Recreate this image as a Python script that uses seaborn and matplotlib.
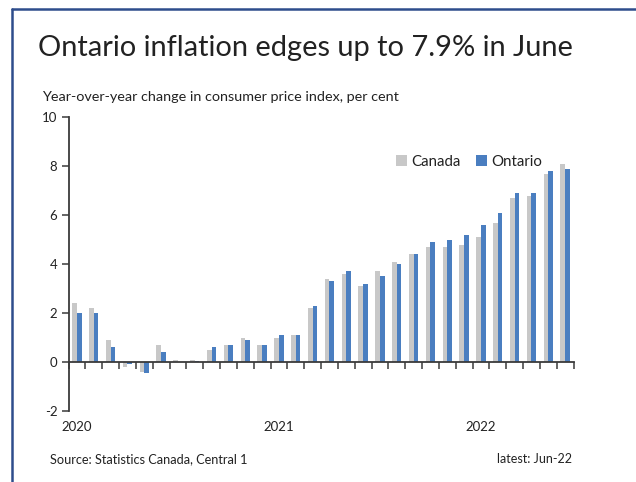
import matplotlib
matplotlib.use("Agg")
import matplotlib.pyplot as plt
import matplotlib.transforms as mtransforms
import seaborn as sns
import pandas as pd
import numpy as np

months = pd.date_range("2020-01-01", "2022-06-01", freq="MS").strftime("%Y-%m").tolist()
canada = [2.4, 2.2, 0.9, -0.2, -0.4, 0.7, 0.1, 0.1, 0.5, 0.7, 1.0, 0.7,
          1.0, 1.1, 2.2, 3.4, 3.6, 3.1, 3.7, 4.1, 4.4, 4.7, 4.7, 4.8,
          5.1, 5.7, 6.7, 6.8, 7.7, 8.1]
ontario = [2.0, 2.0, 0.6, -0.1, -0.45, 0.4, 0.0, 0.05, 0.6, 0.7, 0.9, 0.7,
           1.1, 1.1, 2.3, 3.3, 3.7, 3.2, 3.5, 4.0, 4.4, 4.9, 5.0, 5.2,
           5.6, 6.1, 6.9, 6.9, 7.8, 7.9]
year_labels = ["2020", "2021", "2022"]
year_positions = [0, 12, 24]
series_names = ["Canada", "Ontario"]
colors = ["#c8c8c8", "#4a7ec0"]

df = pd.DataFrame({
    "month": months * 2,
    "value": canada + ontario,
    "series": ["Canada"] * len(months) + ["Ontario"] * len(months),
})

sns.set_theme(style="white")
plt.rcParams["font.family"] = ["Lato", "DejaVu Sans"]
plt.rcParams["axes.unicode_minus"] = False

fig = plt.figure(figsize=(6.36, 4.82), dpi=100)
ax = fig.add_axes([68.5 / 636, 1 - 411 / 482, 505 / 636, (411 - 117.3) / 482])

sns.barplot(data=df, x="month", y="value", hue="series", order=months,
            hue_order=series_names, palette=colors, width=0.56, gap=0,
            saturation=1, ax=ax, linewidth=0)

ax.set_xlim(-0.5, len(months) - 0.5)
ax.set_ylim(-2, 10)
ax.set_yticks(np.arange(-2, 11, 2))
ax.set_xlabel("")
ax.set_ylabel("")

for s in ["top", "right"]:
    ax.spines[s].set_visible(False)
ax.spines["left"].set_color("#3a3a3a")
ax.spines["left"].set_linewidth(1.3)
ax.spines["bottom"].set_position(("data", 0))
ax.spines["bottom"].set_color("#3a3a3a")
ax.spines["bottom"].set_linewidth(1.3)

ax.set_xticks(np.arange(-0.5, len(months), 1))
ax.set_xticklabels([])
ax.tick_params(axis="x", direction="out", length=5, width=1.1, color="#3a3a3a", bottom=True)
ax.tick_params(axis="y", direction="out", length=5, width=1.1, color="#3a3a3a", left=True,
               labelsize=9.5, labelcolor="#222222", pad=3)

trans = mtransforms.blended_transform_factory(ax.transData, ax.transAxes)
for lbl, pos in zip(year_labels, year_positions):
    ax.text(pos, -0.055, lbl, transform=trans, ha="center", va="center",
            fontsize=9.5, color="#222222")

leg = ax.legend(loc="center right", bbox_to_anchor=(0.95, 0.848), ncol=2, frameon=False,
                fontsize=10.8, handlelength=0.75, handleheight=0.75, handletextpad=0.3,
                columnspacing=1.0, borderaxespad=0)
for t in leg.get_texts():
    t.set_color("#222222")

fig.text(38 / 636, 1 - 48 / 482, "Ontario inflation edges up to 7.9% in June",
         fontsize=20.9, color="#222222", ha="left", va="center")
fig.text(42 / 636, 1 - 97 / 482, "Year-over-year change in consumer price index, per cent",
         fontsize=10.4, color="#222222", ha="left", va="center")
fig.text(50 / 636, 1 - 459 / 482, "Source: Statistics Canada, Central 1",
         fontsize=9.2, color="#222222", ha="left", va="center")
fig.text(572 / 636, 1 - 459 / 482, "latest: Jun-22",
         fontsize=9, color="#222222", ha="right", va="center")

# frame border (left and top)
fig.add_artist(plt.Line2D([12 / 636, 12 / 636], [0, 1 - 9 / 482], transform=fig.transFigure,
                          color="#2e4d8c", linewidth=1.8))
fig.add_artist(plt.Line2D([12 / 636, 1], [1 - 9 / 482, 1 - 9 / 482], transform=fig.transFigure,
                          color="#2e4d8c", linewidth=1.8))

fig.savefig("out.png", dpi=100)
